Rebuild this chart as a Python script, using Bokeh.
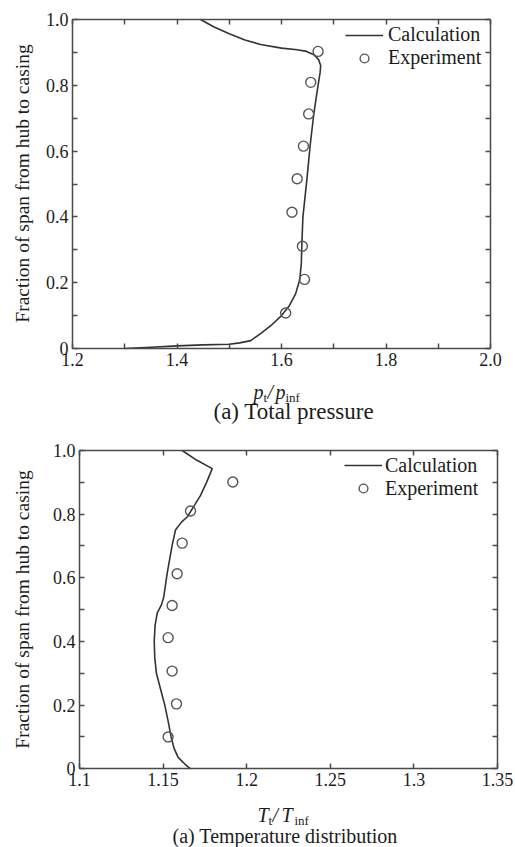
import math

from bokeh.embed import file_html
from bokeh.layouts import column
from bokeh.models import (CustomJSTickFormatter, FixedTicker, Label, Legend,
                          LegendItem, LinearAxis)
from bokeh.plotting import figure
from bokeh.resources import INLINE

# ---------------- data: (a) total pressure ----------------
pt_calc = [1.300, 1.350, 1.400, 1.450, 1.500, 1.520, 1.541, 1.560, 1.580, 1.600,
           1.615, 1.627, 1.635, 1.638, 1.639, 1.641, 1.645, 1.649, 1.655, 1.662,
           1.669, 1.674, 1.675, 1.671, 1.662, 1.648, 1.630, 1.600, 1.560, 1.530,
           1.500, 1.470, 1.445]
span_pt_calc = [0.000, 0.004, 0.008, 0.011, 0.013, 0.017, 0.024, 0.045, 0.070, 0.100,
                0.130, 0.166, 0.210, 0.260, 0.320, 0.400, 0.460, 0.520, 0.620, 0.715,
                0.790, 0.840, 0.860, 0.878, 0.893, 0.903, 0.908, 0.913, 0.924, 0.938,
                0.957, 0.978, 1.000]
pt_exp = [1.670, 1.656, 1.652, 1.642, 1.630, 1.620, 1.640, 1.644, 1.608]
span_pt_exp = [0.903, 0.809, 0.713, 0.615, 0.516, 0.414, 0.311, 0.210, 0.108]

# ---------------- data: (a) temperature distribution ----------------
tt_calc = [1.1664, 1.1630, 1.1590, 1.1565, 1.1548, 1.1530, 1.1510, 1.1485, 1.1460,
           1.1450, 1.1447, 1.1452, 1.1465, 1.1490, 1.1504, 1.1524, 1.1554, 1.1574,
           1.1610, 1.1644, 1.1690, 1.1724, 1.1760, 1.1794, 1.1700, 1.1614]
span_tt_calc = [0.000, 0.015, 0.036, 0.065, 0.100, 0.150, 0.200, 0.250, 0.300,
                0.350, 0.400, 0.450, 0.490, 0.515, 0.540, 0.613, 0.702, 0.750,
                0.775, 0.791, 0.830, 0.859, 0.900, 0.943, 0.970, 1.000]
tt_exp = [1.1917, 1.1664, 1.1614, 1.1584, 1.1554, 1.1530, 1.1554, 1.1580, 1.1530]
span_tt_exp = [0.901, 0.810, 0.709, 0.613, 0.513, 0.412, 0.307, 0.204, 0.100]

# ---------------- ticks ----------------
span_ticks = [0.0, 0.2, 0.4, 0.6, 0.8, 1.0]
span_minor = [0.1, 0.3, 0.5, 0.7, 0.9]
pt_ticks = [1.2, 1.4, 1.6, 1.8, 2.0]
pt_minor = [1.3, 1.5, 1.7, 1.9]
tt_ticks = [1.1, 1.15, 1.2, 1.25, 1.3, 1.35]

SERIF = "Liberation Serif"
FRAME = "#4a4a4a"
INK = "#1c1c1c"
LINE = "#333333"
MARK = "#555555"
PAGE_W = 515

span_fmt = CustomJSTickFormatter(code="return tick == 0 ? '0' : tick.toFixed(1);")
blank_fmt = CustomJSTickFormatter(code="return '';")


def style_axis(ax, ticker, formatter):
    ax.ticker = ticker
    ax.formatter = formatter
    ax.axis_line_color = FRAME
    ax.axis_line_width = 1.5
    ax.major_tick_line_color = FRAME
    ax.minor_tick_line_color = FRAME
    ax.major_tick_line_width = 1.5
    ax.minor_tick_line_width = 1.5
    ax.major_tick_in = 5
    ax.major_tick_out = 0
    ax.minor_tick_in = 5
    ax.minor_tick_out = 0
    ax.major_label_text_font = SERIF
    ax.major_label_text_font_size = "18px"
    ax.major_label_text_color = INK
    ax.major_label_standoff = 4


class Panel:
    """A canvas whose frame fills it; the boxed axes sit at fixed pixels."""

    def __init__(self, height, box, xlim, xticker, xfmt):
        l, t, r, b = box
        x0, x1 = xlim
        self.sx = (x1 - x0) / (r - l)
        self.sy = 1.0 / (b - t)
        self.xs = x0 - l * self.sx
        self.ye = 1.0 + t * self.sy
        p = figure(width=PAGE_W, height=height,
                   x_range=(self.xs, x1 + (PAGE_W - r) * self.sx),
                   y_range=(-(height - b) * self.sy, self.ye),
                   min_border=0, x_axis_location=None, y_axis_location=None,
                   output_backend="svg", toolbar_location=None)
        p.grid.visible = False
        p.outline_line_color = None
        p.background_fill_color = "white"
        p.border_fill_color = "white"
        yticker = FixedTicker(ticks=span_ticks, minor_ticks=span_minor)
        for side, loc, bounds, ticker, fmt in [
                ("below", 0.0, xlim, xticker, xfmt),
                ("above", 1.0, xlim, xticker, blank_fmt),
                ("left", x0, (0.0, 1.0), yticker, span_fmt),
                ("right", x1, (0.0, 1.0), yticker, blank_fmt)]:
            ax = LinearAxis(fixed_location=loc, bounds=bounds)
            style_axis(ax, ticker, fmt)
            p.add_layout(ax, side)
        self.p = p

    def text(self, px, py, text, size, style="normal", angle=0.0, align="left"):
        # (px, py) is the pixel position of the text's vertical middle
        self.p.add_layout(Label(x=self.xs + px * self.sx, y=self.ye - py * self.sy,
                                text=text, text_font=SERIF, text_font_size=size,
                                text_font_style=style, text_color=INK, angle=angle,
                                text_align=align, text_baseline="middle"))

    def legend(self, line_r, pts_r, loc, standoff):
        leg = Legend(items=[LegendItem(label="Calculation", renderers=[line_r]),
                            LegendItem(label="Experiment", renderers=[pts_r])],
                     location=loc, padding=0, margin=0, spacing=0,
                     glyph_width=38, glyph_height=22, label_height=22,
                     label_standoff=standoff, label_text_font=SERIF,
                     label_text_font_size="20px", label_text_color=INK,
                     background_fill_alpha=0, border_line_color=None)
        self.p.add_layout(leg)


# ---------------- (a) total pressure ----------------
TOP_H = 424
top = Panel(TOP_H, (72, 19, 490, 348), (1.2, 2.0),
            FixedTicker(ticks=pt_ticks, minor_ticks=pt_minor),
            CustomJSTickFormatter(code="return tick.toFixed(1);"))
r1 = top.p.line(pt_calc, span_pt_calc, line_color=LINE, line_width=1.6)
r2 = top.p.scatter(pt_exp, span_pt_exp, marker="circle", size=10,
                   fill_color=None, line_color=MARK, line_width=1.4)
top.legend(r1, r2, (345, TOP_H - 69), 5)

top.text(22, 183, "Fraction of span from hub to casing", "19.5px",
         angle=math.pi / 2, align="center")
top.text(253, 391, "p", "20px", "italic")
top.text(263, 396.5, "t", "13px")
top.text(267, 391, "/", "20px", "italic")
top.text(275, 391, "p", "20px", "italic")
top.text(285, 396.5, "inf", "13px")
top.text(213, 410.5, "(a) Total pressure", "23px")

# ---------------- (a) temperature distribution ----------------
BOT_H = 847 - TOP_H
dy = TOP_H  # page offset of the second canvas
bot = Panel(BOT_H, (79, 450 - dy, 497, 768.3 - dy), (1.1, 1.35),
            FixedTicker(ticks=tt_ticks),
            CustomJSTickFormatter(code="return String(Number(tick.toFixed(2)));"))
r3 = bot.p.line(tt_calc, span_tt_calc, line_color=LINE, line_width=1.6)
r4 = bot.p.scatter(tt_exp, span_tt_exp, marker="circle", size=10,
                   fill_color=None, line_color=MARK, line_width=1.4)
bot.legend(r3, r4, (344, BOT_H - (499.5 - dy)), 3)

bot.text(22, 609 - dy, "Fraction of span from hub to casing", "19.5px",
         angle=math.pi / 2, align="center")
bot.text(257, 814 - dy, "T", "20px", "italic")
bot.text(268, 819.5 - dy, "t", "13px")
bot.text(272, 814 - dy, "/", "20px", "italic")
bot.text(281, 814 - dy, "T", "20px", "italic")
bot.text(294, 819.5 - dy, "inf", "13px")
bot.text(172, 835.5 - dy, "(a) Temperature distribution", "20px")

page = column(top.p, bot.p, spacing=0)
open("out.html", "w").write(file_html(page, INLINE))
